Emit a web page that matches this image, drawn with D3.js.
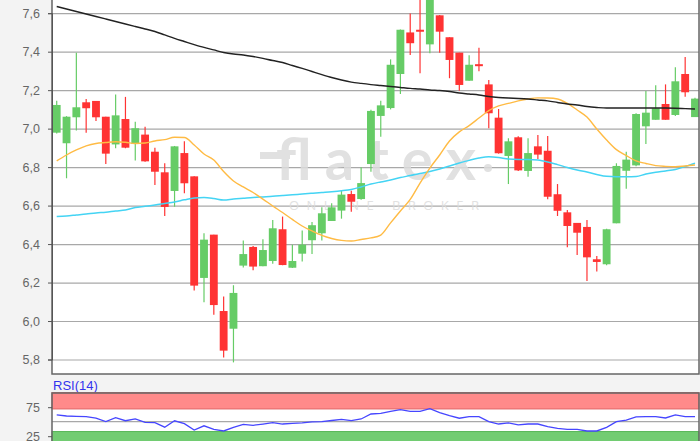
<!DOCTYPE html>
<html>
<head>
<meta charset="utf-8">
<script src="https://d3js.org/d3.v7.min.js"></script>
<style>
  body { margin: 0; background: #f3f3f3; }
  .axis text { font-family: "Liberation Sans", Arial, sans-serif; font-size: 12.5px; fill: #666; }
  .axis path { stroke: #555; }
  .axis line { stroke: #555; }
  .grid line { stroke: #a8a8a8; stroke-width: 1.2px; }
  .grid path { display: none; }
</style>
</head>
<body>
<div id="chart"></div>
<script>
// candle data, one entry per trading day
var opens  = [6.979, 6.924, 7.059, 7.137, 7.144, 7.062, 6.918, 7.050, 6.920, 6.969, 6.880, 6.773, 6.676, 6.873, 6.752, 6.224, 6.449, 6.052, 5.960, 6.288, 6.385, 6.285, 6.312, 6.477, 6.277, 6.350, 6.420, 6.456, 6.520, 6.574, 6.660, 6.634, 6.816, 7.066, 7.107, 7.284, 7.500, 7.514, 7.438, 7.589, 7.475, 7.395, 7.249, 7.335, 7.230, 7.057, 6.858, 6.955, 6.780, 6.908, 6.885, 6.659, 6.565, 6.510, 6.489, 6.321, 6.295, 6.508, 6.781, 6.809, 7.012, 7.046, 7.128, 7.071, 7.284, 7.060];
var highs  = [7.145, 7.065, 7.395, 7.154, 7.144, 7.062, 7.178, 7.165, 7.036, 7.010, 6.901, 6.820, 6.910, 6.934, 6.752, 6.456, 6.449, 6.127, 6.186, 6.418, 6.390, 6.425, 6.525, 6.543, 6.397, 6.470, 6.515, 6.591, 6.612, 6.681, 6.677, 6.799, 7.098, 7.145, 7.360, 7.515, 7.599, 7.720, 7.720, 7.590, 7.475, 7.395, 7.381, 7.421, 7.253, 7.102, 6.950, 6.960, 6.950, 6.967, 6.962, 6.712, 6.577, 6.510, 6.525, 6.338, 6.480, 6.820, 6.880, 7.080, 7.196, 7.225, 7.230, 7.319, 7.372, 7.160];
var lows   = [6.975, 6.742, 6.990, 6.979, 7.040, 6.816, 6.898, 6.898, 6.835, 6.828, 6.707, 6.546, 6.594, 6.664, 6.158, 6.097, 6.032, 5.811, 5.785, 6.278, 6.264, 6.285, 6.298, 6.290, 6.275, 6.310, 6.348, 6.418, 6.520, 6.532, 6.568, 6.630, 6.776, 6.958, 7.100, 7.180, 7.383, 7.288, 7.392, 7.395, 7.262, 7.197, 7.249, 7.298, 7.002, 6.870, 6.712, 6.780, 6.750, 6.842, 6.633, 6.546, 6.383, 6.343, 6.208, 6.257, 6.290, 6.508, 6.688, 6.805, 6.920, 7.046, 7.046, 7.066, 7.166, 7.060];
var closes = [7.123, 7.062, 7.111, 7.106, 7.059, 6.870, 7.069, 6.901, 7.002, 6.830, 6.776, 6.593, 6.908, 6.716, 6.184, 6.423, 6.083, 5.846, 6.146, 6.348, 6.283, 6.369, 6.482, 6.291, 6.312, 6.397, 6.498, 6.560, 6.591, 6.657, 6.620, 6.717, 7.092, 7.121, 7.332, 7.514, 7.444, 7.504, 7.700, 7.504, 7.357, 7.227, 7.332, 7.330, 7.080, 6.872, 6.934, 6.783, 6.873, 6.865, 6.646, 6.573, 6.494, 6.459, 6.331, 6.307, 6.477, 6.806, 6.839, 7.076, 7.083, 7.106, 7.046, 7.246, 7.189, 7.156];

// moving averages
var maShort = [6.832, 6.863, 6.889, 6.910, 6.923, 6.928, 6.932, 6.929, 6.923, 6.925, 6.936, 6.943, 6.955, 6.954, 6.915, 6.868, 6.837, 6.777, 6.728, 6.697, 6.668, 6.634, 6.598, 6.564, 6.528, 6.494, 6.468, 6.445, 6.429, 6.419, 6.416, 6.424, 6.432, 6.447, 6.510, 6.572, 6.632, 6.717, 6.795, 6.863, 6.936, 6.983, 7.016, 7.055, 7.094, 7.118, 7.131, 7.144, 7.154, 7.160, 7.159, 7.154, 7.131, 7.097, 7.060, 6.998, 6.941, 6.891, 6.860, 6.832, 6.819, 6.808, 6.804, 6.802, 6.806, 6.811];
var maMid   = [6.543, 6.546, 6.551, 6.556, 6.562, 6.566, 6.572, 6.577, 6.590, 6.596, 6.603, 6.611, 6.619, 6.630, 6.640, 6.642, 6.637, 6.629, 6.634, 6.638, 6.642, 6.645, 6.648, 6.652, 6.656, 6.660, 6.664, 6.668, 6.672, 6.677, 6.684, 6.697, 6.712, 6.723, 6.733, 6.746, 6.756, 6.767, 6.777, 6.790, 6.806, 6.821, 6.835, 6.847, 6.854, 6.850, 6.842, 6.840, 6.840, 6.837, 6.827, 6.813, 6.798, 6.785, 6.775, 6.762, 6.752, 6.750, 6.750, 6.751, 6.764, 6.773, 6.780, 6.788, 6.803, 6.820];
var maLong  = [7.635, 7.622, 7.609, 7.596, 7.583, 7.570, 7.557, 7.544, 7.531, 7.518, 7.505, 7.487, 7.469, 7.453, 7.437, 7.422, 7.409, 7.396, 7.388, 7.383, 7.375, 7.365, 7.354, 7.344, 7.328, 7.313, 7.297, 7.281, 7.266, 7.253, 7.242, 7.235, 7.229, 7.224, 7.219, 7.214, 7.209, 7.206, 7.201, 7.198, 7.193, 7.185, 7.180, 7.175, 7.167, 7.162, 7.159, 7.157, 7.154, 7.149, 7.144, 7.136, 7.128, 7.123, 7.115, 7.110, 7.107, 7.107, 7.107, 7.107, 7.107, 7.107, 7.107, 7.106, 7.104, 7.102];

var rsi = [61.6, 59.8, 59.3, 58.6, 56.0, 50.3, 56.9, 51.7, 54.7, 49.0, 48.3, 40.5, 51.6, 46.7, 35.7, 42.9, 36.9, 34.0, 40.3, 45.5, 43.8, 46.0, 48.3, 46.0, 47.2, 48.1, 49.8, 50.0, 52.1, 54.0, 51.9, 54.7, 63.3, 64.5, 67.9, 70.7, 67.9, 67.9, 72.4, 65.7, 60.5, 56.0, 58.6, 58.6, 50.0, 46.0, 48.1, 44.7, 46.0, 46.0, 41.6, 38.6, 36.9, 36.6, 34.0, 34.0, 40.3, 50.0, 52.9, 58.4, 58.6, 58.6, 56.4, 61.9, 58.6, 58.6];

var priceTicks = [5.8, 6.0, 6.2, 6.4, 6.6, 6.8, 7.0, 7.2, 7.4, 7.6];
var rsiTicks = [25, 75];

var width = 700, height = 441;
var plotLeft = 52, plotRight = 699;
var mainTop = 0, mainBottom = 374;
var rsiTop = 393, rsiBottom = 450;

var svg = d3.select("#chart").append("svg")
    .attr("width", width)
    .attr("height", height)
    .style("display", "block");

svg.append("rect").attr("width", width).attr("height", height).attr("fill", "#f3f3f3");

var x = d3.scaleBand()
    .domain(d3.range(opens.length))
    .range([51.8, 699.9])
    .paddingInner(0.2)
    .paddingOuter(0.1);

var y = d3.scaleLinear().domain([5.8, 7.6]).range([359.5, 13.2]);
var yr = d3.scaleLinear().domain([0, 100]).range([450.7, 392.7]);

function cx(i) { return x(i) + x.bandwidth() / 2; }

drawMain();
drawRsi();

function drawMain() {
    svg.append("rect")
        .attr("x", plotLeft).attr("y", mainTop)
        .attr("width", plotRight - plotLeft).attr("height", mainBottom - mainTop)
        .attr("fill", "#fff");

    svg.append("clipPath").attr("id", "mainClip")
        .append("rect")
        .attr("x", plotLeft).attr("y", mainTop)
        .attr("width", plotRight - plotLeft).attr("height", mainBottom - mainTop);

    svg.append("g")
        .attr("class", "grid")
        .attr("transform", "translate(" + plotLeft + ",0)")
        .call(d3.axisLeft(y).tickValues(priceTicks).tickSize(-(plotRight - plotLeft)).tickFormat(""));

    // watermark
    var wm = svg.append("g").attr("fill", "#dcdcdc").attr("opacity", 0.85);
    wm.append("text")
        .attr("x", 276).attr("y", 180)
        .attr("font-family", "Lato, 'Open Sans', sans-serif")
        .attr("font-weight", 700)
        .attr("font-size", 58)
        .attr("textLength", 200)
        .attr("lengthAdjust", "spacing")
        .text("flatex");
    wm.append("rect").attr("x", 260).attr("y", 152).attr("width", 30).attr("height", 7);
    wm.append("circle").attr("cx", 488).attr("cy", 168).attr("r", 4);
    wm.append("text")
        .attr("x", 289).attr("y", 210)
        .attr("font-family", "'Open Sans', sans-serif")
        .attr("font-size", 13)
        .attr("textLength", 190)
        .attr("lengthAdjust", "spacing")
        .text("ONLINE BROKER");

    var g = svg.append("g").attr("clip-path", "url(#mainClip)");
    var idx = d3.range(opens.length);

    g.selectAll("line.wick")
        .data(idx)
        .enter().append("line")
        .attr("class", "wick")
        .attr("x1", cx).attr("x2", cx)
        .attr("y1", function(i) { return y(highs[i]); })
        .attr("y2", function(i) { return y(lows[i]); })
        .attr("stroke", function(i) { return closes[i] >= opens[i] ? "#66cc66" : "#ff3333"; })
        .attr("stroke-width", 1.2);

    g.selectAll("rect.body")
        .data(idx)
        .enter().append("rect")
        .attr("class", "body")
        .attr("x", function(i) { return x(i); })
        .attr("width", x.bandwidth())
        .attr("y", function(i) { return y(Math.max(opens[i], closes[i])); })
        .attr("height", function(i) { return Math.max(2, Math.abs(y(opens[i]) - y(closes[i]))); })
        .attr("fill", function(i) { return closes[i] >= opens[i] ? "#66cc66" : "#ff3333"; });

    var line = d3.line().x(function(d, i) { return cx(i); }).y(function(d) { return y(d); }).curve(d3.curveMonotoneX);

    g.append("path").datum(maMid).attr("d", line).attr("fill", "none").attr("stroke", "#44d4f4").attr("stroke-width", 1.5);
    g.append("path").datum(maShort).attr("d", line).attr("fill", "none").attr("stroke", "#ffbb44").attr("stroke-width", 1.4);
    g.append("path").datum(maLong).attr("d", line).attr("fill", "none").attr("stroke", "#222").attr("stroke-width", 1.4);

    // frame
    svg.append("rect")
        .attr("x", plotLeft).attr("y", mainTop - 2)
        .attr("width", plotRight - plotLeft).attr("height", mainBottom - mainTop + 2)
        .attr("fill", "none").attr("stroke", "#666").attr("stroke-width", 1.5);

    svg.append("g")
        .attr("class", "axis")
        .attr("transform", "translate(" + plotLeft + ",0)")
        .call(d3.axisLeft(y).tickValues(priceTicks).tickSize(4).tickPadding(8)
            .tickFormat(function(d) { return d3.format(".1f")(d).replace(".", ","); }));
}

function drawRsi() {
    svg.append("text")
        .attr("x", 53).attr("y", 390)
        .attr("font-family", "'Liberation Sans', Arial, sans-serif")
        .attr("font-size", 13)
        .attr("fill", "#3333ee")
        .text("RSI(14)");

    svg.append("rect")
        .attr("x", plotLeft).attr("y", rsiTop)
        .attr("width", plotRight - plotLeft).attr("height", rsiBottom - rsiTop)
        .attr("fill", "#fff");

    svg.append("rect")
        .attr("x", plotLeft).attr("y", yr(100))
        .attr("width", plotRight - plotLeft).attr("height", yr(72) - yr(100))
        .attr("fill", "#ff8a8a").attr("stroke", "#e06464").attr("stroke-width", 1);

    svg.append("rect")
        .attr("x", plotLeft).attr("y", yr(33))
        .attr("width", plotRight - plotLeft).attr("height", yr(0) - yr(33))
        .attr("fill", "#72cc72").attr("stroke", "#55b555").attr("stroke-width", 1);

    svg.append("line")
        .attr("x1", plotLeft).attr("x2", plotRight)
        .attr("y1", yr(50)).attr("y2", yr(50))
        .attr("stroke", "#a8a8a8").attr("stroke-width", 1.2);

    var line = d3.line().x(function(d, i) { return cx(i); }).y(function(d) { return yr(d); });
    svg.append("path").datum(rsi).attr("d", line)
        .attr("fill", "none").attr("stroke", "#4646ff").attr("stroke-width", 1.3);

    svg.append("rect")
        .attr("x", plotLeft).attr("y", rsiTop)
        .attr("width", plotRight - plotLeft).attr("height", rsiBottom - rsiTop)
        .attr("fill", "none").attr("stroke", "#666").attr("stroke-width", 1.5);

    svg.append("g")
        .attr("class", "axis")
        .attr("transform", "translate(" + plotLeft + ",0)")
        .call(d3.axisLeft(yr).tickValues(rsiTicks).tickSize(4).tickPadding(8))
        .select(".domain").remove();
}
</script>
</body>
</html>
